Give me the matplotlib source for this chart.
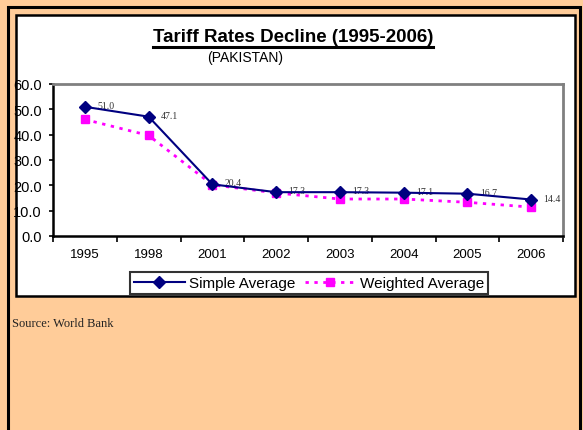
import matplotlib
matplotlib.use("Agg")
import matplotlib.pyplot as plt
from matplotlib.patches import Rectangle
from matplotlib.lines import Line2D
import numpy as np

years = ["1995", "1998", "2001", "2002", "2003", "2004", "2005", "2006"]
simple_avg = [51.0, 47.1, 20.4, 17.3, 17.3, 17.1, 16.7, 14.4]
weighted_avg = [46.0, 39.7, 20.2, 17.0, 14.6, 14.6, 13.3, 11.4]
y_ticks = [0, 10, 20, 30, 40, 50, 60]

W, H = 583, 431
fig = plt.figure(figsize=(W / 100, H / 100), dpi=100)
fig.patch.set_facecolor("#FFCC99")

def fx(x):
    return x / W

def fy(y):
    return 1 - y / H

# outer border
fig.patches.append(Rectangle((fx(8), fy(440)), fx(580) - fx(8), fy(8) - fy(440),
                             transform=fig.transFigure, facecolor="none",
                             edgecolor="black", linewidth=2.2, zorder=-2))
# white chart panel
fig.patches.append(Rectangle((fx(16), fy(297)), fx(575) - fx(16), fy(16) - fy(297),
                             transform=fig.transFigure, facecolor="white",
                             edgecolor="black", linewidth=1.8, zorder=-1))

ax = fig.add_axes([fx(53), fy(237), fx(563) - fx(53), fy(85) - fy(237)])
ax.set_zorder(1)
ax.set_facecolor("white")
x = np.arange(len(years))

ax.plot(x, weighted_avg, color="#FF00FF", linewidth=2.0, linestyle=(0, (1.2, 2.0)),
        marker="s", markersize=6, markerfacecolor="#FF00FF",
        markeredgecolor="#FF00FF", zorder=3, label="Weighted Average")
ax.plot(x, simple_avg, color="#000080", linewidth=1.5, marker="D", markersize=6,
        markerfacecolor="#000080", markeredgecolor="#000080", zorder=4,
        label="Simple Average")

for xi, v in zip(x, simple_avg):
    ax.annotate(f"{v:.1f}", (xi, v), xytext=(9, 1), textcoords="offset points",
                fontsize=7, family="Liberation Serif", color="#333333",
                va="center", ha="left")

ax.set_xlim(-0.5, len(years) - 0.5)
ax.set_ylim(0, 60)
ax.set_yticks(y_ticks)
ax.set_yticklabels([f"{t:.1f}" for t in y_ticks], family="Liberation Sans", fontsize=10.5)
ax.set_xticks(x)
ax.set_xticklabels(years, family="Liberation Sans", fontsize=9.5)
ax.set_xticks(np.arange(-0.5, len(years)), minor=True)
ax.tick_params(axis="x", which="major", length=0, pad=9)
ax.tick_params(axis="x", which="minor", length=4, width=1.2, direction="out")
ax.tick_params(axis="y", length=3, width=1.2, direction="out", pad=5)

for s in ["left", "bottom"]:
    ax.spines[s].set_color("black")
    ax.spines[s].set_linewidth(1.8)
for s in ["top", "right"]:
    ax.spines[s].set_color("#808080")
    ax.spines[s].set_linewidth(2)

# title
t = fig.text(fx(293), fy(37), "Tariff Rates Decline (1995-2006)", ha="center",
             va="center", fontsize=13.5, fontweight="bold", family="Liberation Sans")
fig.canvas.draw()
bb = t.get_window_extent()
fig.add_artist(Line2D([bb.x0 / W, bb.x1 / W], [fy(47.5), fy(47.5)],
                      transform=fig.transFigure, color="black", linewidth=2.2))
fig.text(fx(245), fy(58), "(PAKISTAN)", ha="center", va="center", fontsize=10,
         family="Liberation Sans")

handles = [Line2D([], [], color="#000080", linewidth=1.5, marker="D", markersize=6),
           Line2D([], [], color="#FF00FF", linewidth=2.0, linestyle=(0, (1.2, 2.0)),
                  marker="s", markersize=6)]
leg = fig.legend(handles, ["Simple Average", "Weighted Average"], loc="center",
                 bbox_to_anchor=(fx(309), fy(284)), ncol=2, frameon=True,
                 fancybox=False, prop={"family": "Liberation Sans", "size": 11},
                 handlelength=3.3, handletextpad=0.3, columnspacing=0.6,
                 borderpad=0.25, borderaxespad=0)
leg.get_frame().set_edgecolor("black")
leg.get_frame().set_linewidth(1.5)

fig.text(fx(12), fy(324), "Source: World Bank", ha="left", va="center",
         fontsize=9, family="Liberation Serif", color="#222222")

fig.savefig("out.png", dpi=100, facecolor=fig.get_facecolor())
